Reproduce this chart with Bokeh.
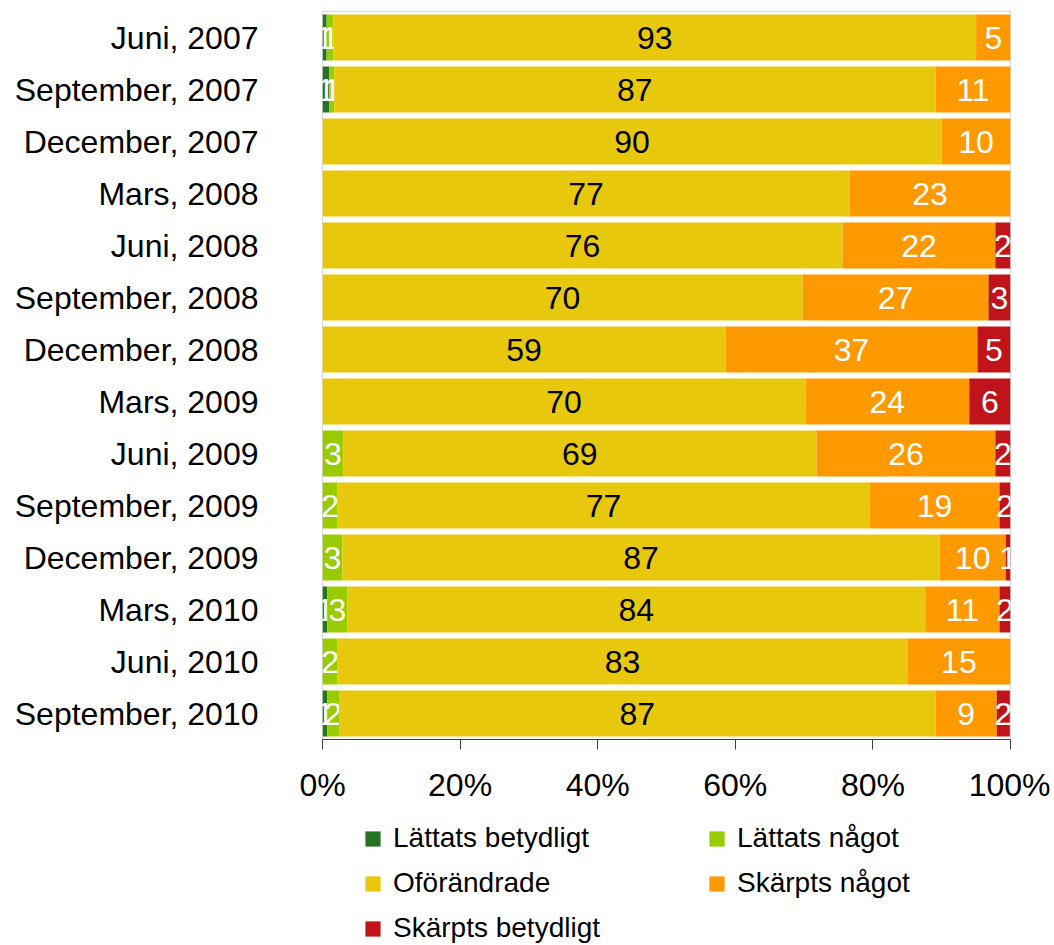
from bokeh.plotting import figure
from bokeh.layouts import column
from bokeh.models import (ColumnDataSource, FactorRange, Range1d, Legend, LegendItem, FixedTicker,
                          CustomJSTickFormatter)
from bokeh.core.properties import value
from bokeh.embed import file_html
from bokeh.resources import INLINE

periods = ["Juni, 2007", "September, 2007", "December, 2007", "Mars, 2008",
           "Juni, 2008", "September, 2008", "December, 2008", "Mars, 2009",
           "Juni, 2009", "September, 2009", "December, 2009", "Mars, 2010",
           "Juni, 2010", "September, 2010"]

lattats_betydligt = [0.6, 1.0, 0, 0, 0, 0, 0, 0, 0, 0, 0, 0.7, 0, 0.7]
lattats_nagot = [1.0, 0.7, 0, 0, 0, 0, 0, 0, 3.0, 2.2, 2.9, 2.9, 2.2, 1.7]
oforandrade = [93.4, 87.4, 90.0, 76.6, 75.6, 69.8, 58.6, 70.2, 68.8, 77.3, 86.8, 84.0, 82.8, 86.7]
skarpts_nagot = [5.0, 10.9, 10.0, 23.4, 22.2, 27.0, 36.6, 23.8, 26.0, 18.9, 9.6, 10.8, 15.0, 8.9]
skarpts_betydligt = [0, 0, 0, 0, 2.2, 3.2, 4.8, 6.0, 2.2, 1.6, 0.7, 1.6, 0, 1.9]

series_names = ["Lättats betydligt", "Lättats något", "Oförändrade", "Skärpts något", "Skärpts betydligt"]
series_values = [lattats_betydligt, lattats_nagot, oforandrade, skarpts_nagot, skarpts_betydligt]
colors = ["#267326", "#99cc00", "#e8c80c", "#ff9900", "#c0141a"]
label_colors = ["white", "white", "black", "white", "white"]
FONT = "Liberation Sans"

p = figure(
    y_range=FactorRange(*reversed(periods)),
    x_range=Range1d(0, 100),
    frame_width=688, frame_height=728,
    min_border_left=322, min_border_right=40, min_border_top=11,
    min_border_bottom=70,
    output_backend="svg", toolbar_location=None,
)

# Legend-only figure: its bars have zero height and lie outside its visible
# x range, so only the legend swatches and labels show.
lg = figure(
    y_range=FactorRange(*reversed(periods)),
    x_range=Range1d(200, 300),
    frame_width=688, frame_height=124,
    min_border_left=322, min_border_right=40, min_border_top=12, min_border_bottom=0,
    x_axis_type=None, y_axis_type=None,
    output_backend="svg", toolbar_location=None,
)
lg.xgrid.grid_line_color = None
lg.ygrid.grid_line_color = None
lg.outline_line_color = None

items = []
left = [0.0] * len(periods)
for name, vals, col, lcol in zip(series_names, series_values, colors, label_colors):
    right = [l + v for l, v in zip(left, vals)]
    src = ColumnDataSource(dict(y=periods, left=left, right=right))
    p.hbar(y="y", left="left", right="right", height=0.88, source=src,
           fill_color=col, line_color=None)
    lr = lg.hbar(y="y", left="left", right="right", height=0, source=src,
                 fill_color=col, line_color=None)
    items.append(LegendItem(label=name, renderers=[lr]))
    lab = dict(x=[], y=[], t=[])
    for per, l, v in zip(periods, left, vals):
        if round(v) > 0:
            lab["x"].append(l + v / 2)
            lab["y"].append(per)
            lab["t"].append(str(int(round(v))))
    p.text(x="x", y="y", text="t", source=ColumnDataSource(lab),
           text_align="center", text_baseline="middle", text_color=lcol,
           text_font=value(FONT), text_font_size="32px")
    left = right

p.xaxis.ticker = FixedTicker(ticks=[0, 20, 40, 60, 80, 100])
p.xaxis.formatter = CustomJSTickFormatter(code="return tick + '%';")
p.xaxis.major_label_text_font = FONT
p.xaxis.major_label_text_font_size = "32px"
p.xaxis.major_label_text_color = "black"
p.xaxis.axis_line_color = "#404040"
p.xaxis.major_tick_line_color = "#404040"
p.xaxis.major_tick_out = 10
p.xaxis.major_tick_in = 0
p.xaxis.minor_tick_line_color = None
p.xaxis.major_label_standoff = 17

p.yaxis.axis_line_color = None
p.yaxis.major_tick_line_color = None
p.yaxis.minor_tick_line_color = None
p.yaxis.major_label_text_font = FONT
p.yaxis.major_label_text_font_size = "32px"
p.yaxis.major_label_text_color = "black"
p.yaxis.major_label_standoff = 58

p.xgrid.grid_line_color = None
p.ygrid.grid_line_color = None
p.outline_line_color = "#d9d9d9"
p.background_fill_color = "white"
p.border_fill_color = "white"

legend = Legend(
    items=items,
    ncols=2,
    location=(41, 1),
    orientation="horizontal",
    label_text_font=FONT,
    label_text_font_size="28px",
    label_text_color="black",
    glyph_width=19, glyph_height=19,
    label_height=31,
    label_width=301,
    label_standoff=11,
    spacing=13,
    padding=0,
    margin=0,
    border_line_color=None,
    background_fill_alpha=0,
)
lg.add_layout(legend, "center")

layout = column(p, lg, spacing=0)
open("out.html", "w").write(file_html(layout, INLINE))
